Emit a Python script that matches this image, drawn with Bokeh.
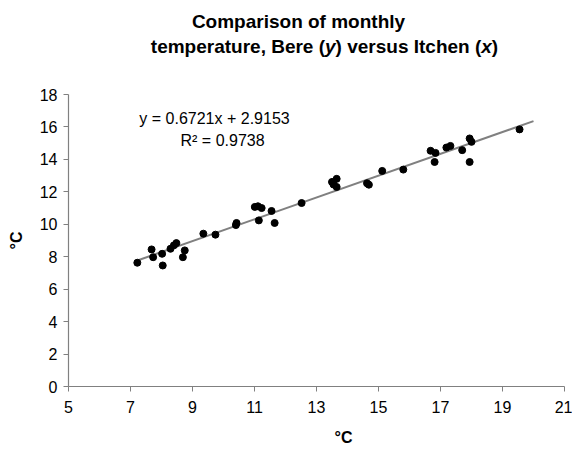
from bokeh.plotting import figure
from bokeh.models import Label, Range1d, FixedTicker
from bokeh.layouts import column
from bokeh.core.properties import value
from bokeh.embed import file_html
from bokeh.resources import INLINE

# Itchen (x) vs Bere (y) monthly temperatures, deg C
itchen = [7.22, 7.68, 7.73, 8.04, 8.02, 8.29, 8.40, 8.48, 8.75, 8.69,
          9.35, 9.74, 10.42, 10.40, 11.01, 11.11, 11.23, 11.14, 11.55, 11.65,
          12.52, 13.50, 13.65, 13.65, 13.55, 14.63, 14.69, 15.12, 15.80,
          16.68, 16.84, 16.81, 17.19, 17.32, 17.70, 17.94, 18.00, 17.94, 19.55]
bere = [7.63, 8.45, 7.97, 7.46, 8.18, 8.49, 8.70, 8.84, 8.39, 7.97,
        9.42, 9.36, 10.08, 9.95, 11.07, 11.11, 11.00, 10.24, 10.82, 10.08,
        11.31, 12.61, 12.80, 12.30, 12.45, 12.53, 12.44, 13.29, 13.37,
        14.53, 14.40, 13.84, 14.73, 14.83, 14.57, 15.29, 15.08, 13.84, 15.85]

slope = 0.6721
intercept = 2.9153
r_squared = 0.9738
trend_x = [7.2, 20.0]
trend_y = [slope * v + intercept for v in trend_x]

x_ticks = [5, 7, 9, 11, 13, 15, 17, 19, 21]
y_ticks = [0, 2, 4, 6, 8, 10, 12, 14, 16, 18]

title_line1 = "Comparison of monthly"
title_line2_parts = [("temperature, Bere (", "normal"), ("y", "italic"),
                     (") versus Itchen (", "normal"), ("x", "italic"), (")", "normal")]
axis_title = "°C"

FONT = "Liberation Sans"
W_TOTAL = 572
BL, BR = 68, 8          # left / right borders shared by all stacked parts

def strip(height):
    f = figure(width=W_TOTAL, height=height, output_backend="svg", toolbar_location=None,
               x_range=Range1d(BL, W_TOTAL - BR), y_range=Range1d(height, 0),
               x_axis_location=None, y_axis_location=None,
               min_border_left=BL, min_border_right=BR, min_border_top=0,
               min_border_bottom=0)
    f.grid.visible = False
    f.outline_line_color = None
    return f

# ---------- title strip ----------
TH = 64
tfig = strip(TH)

W = {' ': 278, '(': 333, ')': 333, ',': 278, 'B': 722, 'I': 278, 'a': 556, 'c': 556,
     'e': 556, 'h': 611, 'm': 889, 'n': 611, 'p': 611, 'r': 389, 's': 556, 't': 333,
     'u': 611, 'v': 556, 'x': 556, 'y': 556, 'C': 722, 'o': 611, 'f': 333, 'i': 278,
     'l': 278}
TS = 19
def tw(s):
    return sum(W.get(c, 556) for c in s) * TS / 1000.0

tfig.text(x=[298], y=[21], text=[title_line1], text_align="center",
          text_baseline="middle", text_font=value(FONT), text_font_size=f"{TS}px",
          text_font_style="bold", text_color="black")
total = sum(tw(s) for s, _ in title_line2_parts)
cx = 324 - total / 2
for s, st in title_line2_parts:
    tfig.text(x=[cx], y=[46], text=[s], text_align="left", text_baseline="middle",
              text_font=value(FONT), text_font_size=f"{TS}px",
              text_font_style="bold" if st == "normal" else "bold italic",
              text_color="black")
    cx += tw(s)

# ---------- main plot ----------
MH = 358
p = figure(width=W_TOTAL, height=MH, output_backend="svg", toolbar_location=None,
           x_range=Range1d(5, 21), y_range=Range1d(0, 18),
           min_border_left=BL, min_border_right=BR, min_border_top=30, min_border_bottom=36)
p.outline_line_color = None
p.grid.visible = False

for ax in (p.xaxis[0], p.yaxis[0]):
    ax.axis_line_color = "#808080"
    ax.axis_line_width = 1.2
    ax.major_tick_line_color = "#808080"
    ax.major_tick_out = 5
    ax.major_tick_in = 0
    ax.minor_tick_line_color = None
    ax.major_label_text_font = FONT
    ax.major_label_text_font_size = "16px"
    ax.major_label_text_color = "black"
    ax.axis_label_text_font = FONT
    ax.axis_label_text_font_size = "16px"
    ax.axis_label_text_font_style = "bold"
    ax.axis_label_text_color = "black"

p.xaxis[0].ticker = FixedTicker(ticks=x_ticks)
p.yaxis[0].ticker = FixedTicker(ticks=y_ticks)
p.yaxis[0].axis_label = axis_title
p.xaxis[0].major_label_standoff = 9
p.yaxis[0].major_label_standoff = 6
p.yaxis[0].axis_label_standoff = 12

p.line(trend_x, trend_y, line_color="#808080", line_width=2)
p.scatter(itchen, bere, size=7, fill_color="black", line_color="black")

p.add_layout(Label(x=9.71, y=16.55, text=f"y = {slope}x + {intercept}",
                   text_align="center", text_baseline="middle", text_font=FONT,
                   text_font_size="16px", text_color="black"))
p.add_layout(Label(x=9.97, y=15.19, text=f"R² = {r_squared}",
                   text_align="center", text_baseline="middle", text_font=FONT,
                   text_font_size="16px", text_color="black"))

# ---------- x-axis title strip ----------
BH = 450 - TH - MH
bfig = strip(BH)
bfig.text(x=[343], y=[437 - TH - MH], text=[axis_title], text_align="center",
          text_baseline="middle", text_font=value(FONT), text_font_size="16px",
          text_font_style="bold", text_color="black")

layout = column(tfig, p, bfig, spacing=0)
open("out.html", "w").write(file_html(layout, INLINE))
